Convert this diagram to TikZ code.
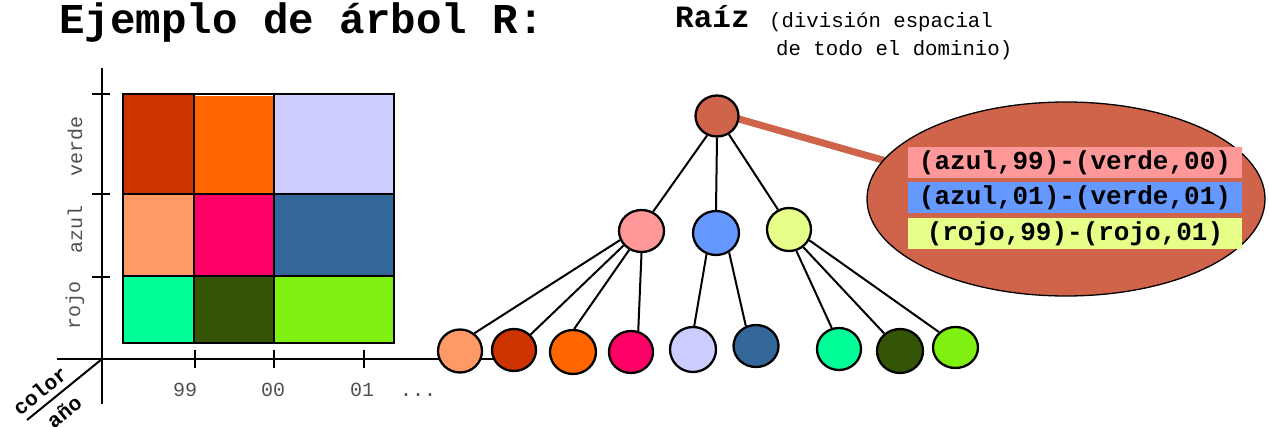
\documentclass[tikz,border=0pt]{standalone}
\usepackage{fontspec}
\setmainfont{Liberation Mono}
\usetikzlibrary{shapes.geometric,backgrounds}

% palette
\definecolor{rootred}{HTML}{D0644A}
\definecolor{rustred}{HTML}{CC3300}
\definecolor{brightorange}{HTML}{FF6600}
\definecolor{lavender}{HTML}{CCCCFF}
\definecolor{peach}{HTML}{FF9966}
\definecolor{hotpink}{HTML}{FF0066}
\definecolor{steelblue}{HTML}{336699}
\definecolor{mint}{HTML}{00FF99}
\definecolor{darkolive}{HTML}{335505}
\definecolor{limegreen}{HTML}{80F010}
\definecolor{salmon}{HTML}{FF9999}
\definecolor{skyblue}{HTML}{6699FF}
\definecolor{paleyellow}{HTML}{E6FF88}
\definecolor{labelgray}{HTML}{505050}

\begin{document}
\begin{tikzpicture}[x=1pt,y=-1pt,
  treenode/.style={ellipse,draw=black,line width=2.3pt,inner sep=0pt},
  branch/.style={line width=2pt},
  axisline/.style={line width=2pt},
  gridline/.style={line width=2.6pt},
  axlabel/.style={text=labelgray,inner sep=0pt,font=\fontsize{20}{22}\selectfont},
  rangebox/.style={inner sep=0pt,minimum width=334,minimum height=31,
    font=\fontsize{26}{28}\selectfont\bfseries}]
\useasboundingbox (0,0) rectangle (1269,427);

% ---- headings ----
\node[anchor=base west,inner sep=0pt,font=\fontsize{42.5}{46}\selectfont\bfseries]
  (title) at (59,34) {Ejemplo de árbol R:};
\node[anchor=base west,inner sep=0pt,font=\fontsize{31}{34}\selectfont\bfseries]
  (raiz) at (675,28) {Raíz};
\node[anchor=base west,inner sep=0pt,font=\fontsize{20.7}{23}\selectfont]
  (raizdesc1) at (769,28) {(división espacial};
\node[anchor=base west,inner sep=0pt,font=\fontsize{20.7}{23}\selectfont]
  (raizdesc2) at (776,56) {de todo el dominio)};

% ---- data space: coloured regions ----
\fill[rustred]      (123,94)  rectangle (194,194);
\fill[brightorange] (194,96)  rectangle (274,194);
\fill[lavender]     (274,94)  rectangle (394,194);
\fill[peach]        (123,194) rectangle (194,276);
\fill[hotpink]      (194,194) rectangle (274,276);
\fill[steelblue]    (274,194) rectangle (394,276);
\fill[mint]         (123,276) rectangle (194,343);
\fill[darkolive]    (194,276) rectangle (274,343);
\fill[limegreen]    (274,276) rectangle (394,343);
\draw[gridline] (123,94) rectangle (394,343);
\draw[gridline] (194,94) -- (194,343) (274,94) -- (274,343)
                (123,194) -- (394,194) (123,276) -- (394,276);

% ---- axes ----
\coordinate (origin) at (102,359);
\coordinate (ytop) at (102,68);
\coordinate (ybot) at (102,404);
\coordinate (xleft) at (57,359);
\coordinate (xright) at (494,359);
\coordinate (diag) at (27,420);
\draw[axisline] (ytop) -- (ybot);
\draw[axisline] (xleft) -- (xright);
\draw[axisline] (origin) -- (diag);
\foreach \yy in {94,194,277} \draw[axisline] (92,\yy) -- (110,\yy);
\foreach \xx in {195,274,364} \draw[axisline] (\xx,350) -- (\xx,368);

\node[axlabel,rotate=90] (lverde) at (75,146) {verde};
\node[axlabel,rotate=90] (lazul)  at (75,229) {azul};
\node[axlabel,rotate=90] (lrojo)  at (75,305) {rojo};
\node[axlabel] (l99) at (185,390) {99};
\node[axlabel] (l00) at (273,390) {00};
\node[axlabel] (l01) at (362,390) {01};
\node[axlabel,anchor=base] (ldots) at (418,397) {...};
\node[inner sep=0pt,rotate=39,font=\fontsize{21}{23}\selectfont\bfseries]
  (lcolor) at (40,391) {color};
\node[inner sep=0pt,rotate=39,font=\fontsize{21}{23}\selectfont\bfseries]
  (lanio) at (64,412) {año};

% ---- tree ----
\node[treenode,fill=rootred,minimum width=43,minimum height=41] (root) at (717,116) {};

\node[treenode,fill=salmon,minimum width=45,minimum height=42] (pink) at (641.5,231) {};
\node[treenode,fill=skyblue,minimum width=46,minimum height=44] (blue) at (716,233) {};
\node[treenode,fill=paleyellow,minimum width=44,minimum height=43] (yellow) at (789,229.5) {};

\node[treenode,fill=peach,minimum width=44,minimum height=43]        (l1) at (460,351) {};
\node[treenode,fill=rustred,minimum width=44,minimum height=42]      (l2) at (514,350) {};
\node[treenode,fill=brightorange,minimum width=46,minimum height=44] (l3) at (573,352) {};
\node[treenode,fill=hotpink,minimum width=44,minimum height=42]      (l4) at (631,352) {};
\node[treenode,fill=lavender,minimum width=46,minimum height=45]     (l5) at (693,349.5) {};
\node[treenode,fill=steelblue,minimum width=45,minimum height=42]    (l6) at (756,346) {};
\node[treenode,fill=mint,minimum width=44,minimum height=42]         (l7) at (839,349) {};
\node[treenode,fill=darkolive,minimum width=46,minimum height=44]    (l8) at (900,351) {};
\node[treenode,fill=limegreen,minimum width=45,minimum height=41]    (l9) at (955.5,347.5) {};

\draw[branch] (root.-117) -- (pink.59);
\draw[branch] (root.-90) -- (blue.90);
\draw[branch] (root.-57) -- (yellow.119);

\draw[branch] (pink.-157) -- (l1.51);
\draw[branch] (pink.-141) -- (l2.43);
\draw[branch] (pink.-123) -- (l3.87);
\draw[branch] (pink.-90)  -- (l4.71);
\draw[branch] (blue.-114) -- (l5.87);
\draw[branch] (blue.-56)  -- (l6.117);
\draw[branch] (yellow.-71) -- (l7.109);
\draw[branch] (yellow.-51) -- (l8.132);
\draw[branch] (yellow.-28) -- (l9.137);

% ---- root entry detail ----
\node[ellipse,draw=black,line width=1.3pt,fill=rootred,inner sep=0pt,
  minimum width=398,minimum height=194] (callout) at (1066,199) {};
\node[rangebox,fill=salmon]     (box1) at (1075,162.5) {(azul,99)-(verde,00)};
\node[rangebox,fill=skyblue]    (box2) at (1075,197.5) {(azul,01)-(verde,01)};
\node[rangebox,fill=paleyellow] (box3) at (1075,234)   {(rojo,99)-(rojo,01)};

\begin{scope}[on background layer]
  \draw[rootred,line width=7pt,shorten <=-6pt,shorten >=-8pt]
    (root.-8) -- (callout.168);
\end{scope}
\end{tikzpicture}
\end{document}
